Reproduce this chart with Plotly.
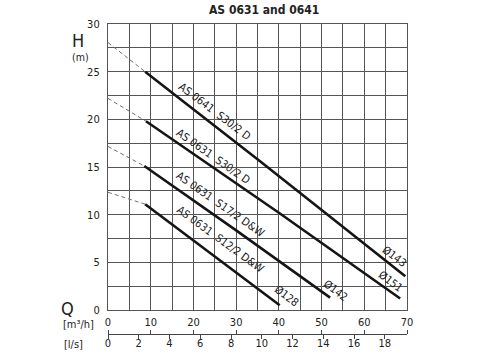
import plotly.graph_objects as go

# ---- data (Q in m3/h, H in m) ----
models = ["AS 0641  S30/2 D", "AS 0631  S30/2 D", "AS 0631  S17/2 D&W", "AS 0631  S12/2 D&W"]
impellers = ["Ø143", "Ø151", "Ø142", "Ø128"]

dash_q_0641_s30 = [0, 8.7]
dash_h_0641_s30 = [28.05, 25.0]
q_0641_s30 = [8.7, 35.6, 69.6]
h_0641_s30 = [25.0, 15.6, 3.55]

dash_q_0631_s30 = [0, 8.9]
dash_h_0631_s30 = [22.2, 19.8]
q_0631_s30 = [8.9, 40.0, 68.4]
h_0631_s30 = [19.8, 10.2, 1.2]

dash_q_0631_s17 = [0, 8.5]
dash_h_0631_s17 = [17.15, 15.1]
q_0631_s17 = [8.5, 30.0, 52.0]
h_0631_s17 = [15.1, 8.35, 1.3]

dash_q_0631_s12 = [0, 8.7]
dash_h_0631_s12 = [12.35, 11.1]
q_0631_s12 = [8.7, 25.0, 40.2]
h_0631_s12 = [11.1, 5.6, 0.5]

h_ticks = [0, 5, 10, 15, 20, 25, 30]
q_m3h_ticks = [0, 10, 20, 30, 40, 50, 60, 70]
q_ls_ticks = [0, 2, 4, 6, 8, 10, 12, 14, 16, 18]

FONT = "DejaVu Sans Condensed, Liberation Sans Narrow, Roboto, sans-serif"
GRID = "#555555"

# page geometry (pixels)
TOP, BOTTOM_PAPER = 24, 360
PH = BOTTOM_PAPER - TOP
PLOT_BOTTOM = 310
AXIS_LINE = 333.5

fig = go.Figure()

dashes = [(dash_q_0641_s30, dash_h_0641_s30), (dash_q_0631_s30, dash_h_0631_s30),
          (dash_q_0631_s17, dash_h_0631_s17), (dash_q_0631_s12, dash_h_0631_s12)]
solids = [(q_0641_s30, h_0641_s30), (q_0631_s30, h_0631_s30),
          (q_0631_s17, h_0631_s17), (q_0631_s12, h_0631_s12)]

for q, h in dashes:
    fig.add_trace(go.Scatter(x=q, y=h, mode="lines", line=dict(color="#707070", width=1, dash="4px,3px"),
                             hoverinfo="skip", showlegend=False))
for (q, h), name in zip(solids, models):
    fig.add_trace(go.Scatter(x=q, y=h, mode="lines", name=name, line=dict(color="#151515", width=2.6),
                             showlegend=False))

# dummy traces to register the extra x axes
fig.add_trace(go.Scatter(x=[], y=[], xaxis="x3", yaxis="y", showlegend=False, hoverinfo="skip"))
fig.add_trace(go.Scatter(x=[], y=[], xaxis="x4", yaxis="y", showlegend=False, hoverinfo="skip"))

# curve labels
label_pos = [(24.9, 20.8, 37), (24.6, 16.15, 35), (26.3, 11.05, 35), (26.3, 7.4, 36)]
for name, (x, y, a) in zip(models, label_pos):
    fig.add_annotation(x=x, y=y, text=name, textangle=a, showarrow=False,
                       font=dict(family=FONT, size=11, color="#1a1a1a"))
imp_pos = [(67.0, 5.6), (66.1, 2.95), (53.2, 2.0), (41.9, 1.4)]
for name, (x, y) in zip(impellers, imp_pos):
    fig.add_annotation(x=x, y=y, text=name, textangle=37, showarrow=False,
                       font=dict(family=FONT, size=11, color="#1a1a1a"))

# axis titles
def ptxt(px, py, text, size, bold=False):
    fig.add_annotation(xref="paper", yref="paper", x=(px - 108) / 299, y=(BOTTOM_PAPER - py) / PH,
                       text=("<b>%s</b>" % text) if bold else text, showarrow=False,
                       xanchor="center", yanchor="middle",
                       font=dict(family=FONT, size=size, color="#222"))

ptxt(78, 40, "H", 18)
ptxt(80, 57, "(m)", 10.5)
ptxt(67, 308, "Q", 18)
ptxt(78, 324, "[m³/h]", 11)
ptxt(73, 344, "[l/s]", 11)
ptxt(264, 10, "AS 0631 and 0641", 12, bold=True)

grid_x = [i * 5 for i in range(15)]
grid_y = [i * 2.5 for i in range(13)]

fig.update_layout(
    width=478, height=360,
    margin=dict(l=108, r=71, t=TOP, b=0, autoexpand=False),
    paper_bgcolor="white", plot_bgcolor="white",
    font=dict(family=FONT, size=11, color="#222"),
    xaxis=dict(range=[0, 70], tickvals=grid_x, showticklabels=False, ticks="", automargin=False,
               showgrid=True, gridcolor=GRID, gridwidth=1.2, zeroline=False,
               showline=True, linecolor=GRID, linewidth=1.2, mirror=True, fixedrange=True),
    yaxis=dict(range=[0, 30], domain=[(BOTTOM_PAPER - PLOT_BOTTOM) / PH, 1], tickvals=grid_y,
               ticktext=[("%g" % v) if v in h_ticks else "" for v in grid_y], automargin=False,
               ticks="", showgrid=True, gridcolor=GRID, gridwidth=1.2, zeroline=False,
               showline=True, linecolor=GRID, linewidth=1.2, mirror=True,
               tickfont=dict(size=11), ticklabelstandoff=5, fixedrange=True),
    xaxis3=dict(range=[0, 70 / 3.6], overlaying="x", anchor="free",
                position=(BOTTOM_PAPER - AXIS_LINE) / PH, automargin=False,
                tickvals=q_ls_ticks, ticks="outside", ticklen=4, tickcolor="#444", tickwidth=1,
                showline=True, linecolor="#444", linewidth=1, showgrid=False, zeroline=False,
                tickfont=dict(size=11), ticklabelstandoff=-5, fixedrange=True),
    xaxis4=dict(range=[0, 70], overlaying="x", anchor="free",
                position=(BOTTOM_PAPER - AXIS_LINE) / PH, side="top", automargin=False,
                tickvals=q_m3h_ticks, ticks="outside", ticklen=4, tickcolor="#444", tickwidth=1,
                showline=False, showgrid=False, zeroline=False,
                tickfont=dict(size=11), ticklabelstandoff=-1, fixedrange=True),
)

fig.write_html("out.html")
